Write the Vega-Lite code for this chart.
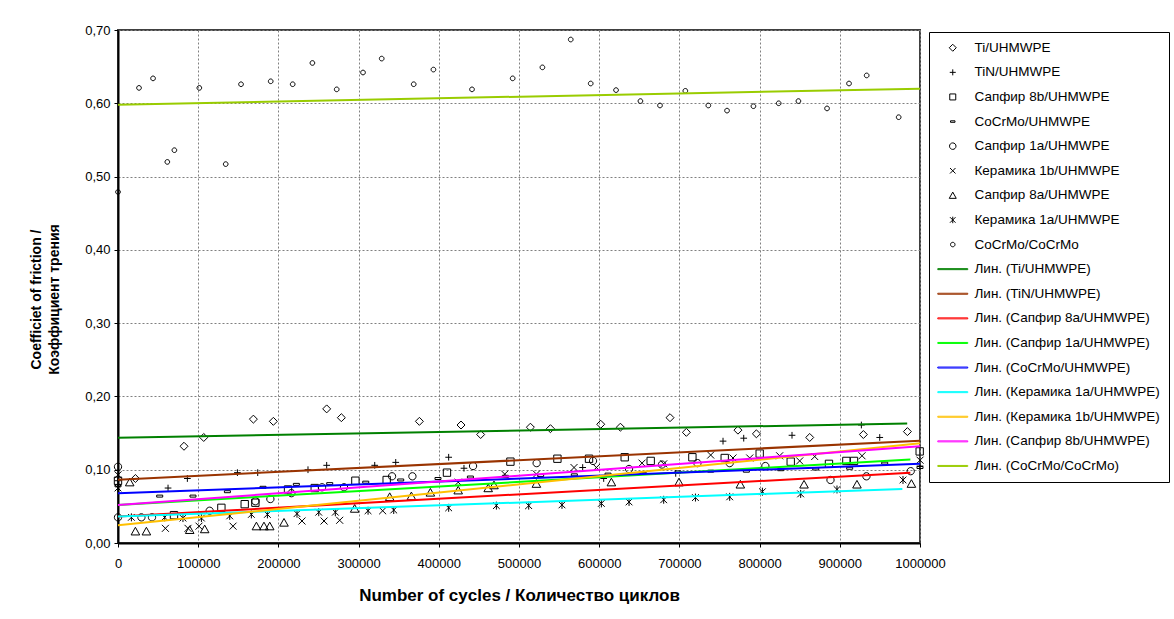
{
  "$schema": "https://vega.github.io/schema/vega-lite/v6.json",
  "width": 802,
  "height": 513,
  "autosize": {"type": "none"},
  "padding": {"left": 118, "top": 30, "right": 254, "bottom": 76},
  "background": "white",
  "config": {
    "font": "Liberation Sans",
    "view": {"stroke": "#404040", "strokeWidth": 2},
    "axis": {
      "labelFont": "Liberation Sans", "labelFontSize": 13, "labelColor": "black",
      "titleFont": "Liberation Sans", "titleFontWeight": "bold", "titleColor": "black",
      "domainColor": "black", "domainWidth": 2, "tickColor": "black", "tickSize": 4,
      "grid": true, "gridColor": "#808080", "gridDash": [2, 2], "gridWidth": 1
    },
    "legend": {
      "labelFont": "Liberation Sans", "labelFontSize": 13.5, "labelColor": "black", "labelLimit": 400,
      "strokeColor": "black", "fillColor": "white", "padding": 9, "rowPadding": 9.6,
      "symbolSize": 100, "symbolStrokeWidth": 1, "symbolOffset": 8, "labelOffset": 15
    }
  },
  "datasets": {
    "pts": [
      {"s": "Ti/UHMWPE", "x": 21700, "y": 0.088},
      {"s": "Ti/UHMWPE", "x": 82300, "y": 0.132},
      {"s": "Ti/UHMWPE", "x": 106900, "y": 0.144},
      {"s": "Ti/UHMWPE", "x": 168800, "y": 0.169},
      {"s": "Ti/UHMWPE", "x": 193700, "y": 0.166},
      {"s": "Ti/UHMWPE", "x": 260200, "y": 0.183},
      {"s": "Ti/UHMWPE", "x": 278500, "y": 0.171},
      {"s": "Ti/UHMWPE", "x": 375800, "y": 0.166},
      {"s": "Ti/UHMWPE", "x": 427700, "y": 0.161},
      {"s": "Ti/UHMWPE", "x": 452200, "y": 0.148},
      {"s": "Ti/UHMWPE", "x": 514200, "y": 0.158},
      {"s": "Ti/UHMWPE", "x": 539200, "y": 0.156},
      {"s": "Ti/UHMWPE", "x": 601900, "y": 0.162},
      {"s": "Ti/UHMWPE", "x": 626400, "y": 0.158},
      {"s": "Ti/UHMWPE", "x": 688300, "y": 0.171},
      {"s": "Ti/UHMWPE", "x": 708700, "y": 0.151},
      {"s": "Ti/UHMWPE", "x": 773000, "y": 0.154},
      {"s": "Ti/UHMWPE", "x": 796000, "y": 0.149},
      {"s": "Ti/UHMWPE", "x": 862500, "y": 0.144},
      {"s": "Ti/UHMWPE", "x": 929400, "y": 0.148},
      {"s": "Ti/UHMWPE", "x": 984300, "y": 0.152},
      {"s": "TiN/UHMWPE", "x": 0, "y": 0.085},
      {"s": "TiN/UHMWPE", "x": 62400, "y": 0.075},
      {"s": "TiN/UHMWPE", "x": 86500, "y": 0.088},
      {"s": "TiN/UHMWPE", "x": 148900, "y": 0.096},
      {"s": "TiN/UHMWPE", "x": 174200, "y": 0.096},
      {"s": "TiN/UHMWPE", "x": 236900, "y": 0.1},
      {"s": "TiN/UHMWPE", "x": 260200, "y": 0.106},
      {"s": "TiN/UHMWPE", "x": 320100, "y": 0.106},
      {"s": "TiN/UHMWPE", "x": 346300, "y": 0.11},
      {"s": "TiN/UHMWPE", "x": 412300, "y": 0.117},
      {"s": "TiN/UHMWPE", "x": 431400, "y": 0.102},
      {"s": "TiN/UHMWPE", "x": 579400, "y": 0.103},
      {"s": "TiN/UHMWPE", "x": 605600, "y": 0.088},
      {"s": "TiN/UHMWPE", "x": 695400, "y": 0.095},
      {"s": "TiN/UHMWPE", "x": 754400, "y": 0.139},
      {"s": "TiN/UHMWPE", "x": 780200, "y": 0.143},
      {"s": "TiN/UHMWPE", "x": 840400, "y": 0.147},
      {"s": "TiN/UHMWPE", "x": 926900, "y": 0.161},
      {"s": "TiN/UHMWPE", "x": 949800, "y": 0.144},
      {"s": "TiN/UHMWPE", "x": 1000000, "y": 0.105},
      {"s": "Сапфир 8b/UHMWPE", "x": 0, "y": 0.085},
      {"s": "Сапфир 8b/UHMWPE", "x": 69800, "y": 0.038},
      {"s": "Сапфир 8b/UHMWPE", "x": 128900, "y": 0.048},
      {"s": "Сапфир 8b/UHMWPE", "x": 158000, "y": 0.053},
      {"s": "Сапфир 8b/UHMWPE", "x": 171300, "y": 0.055},
      {"s": "Сапфир 8b/UHMWPE", "x": 212000, "y": 0.073},
      {"s": "Сапфир 8b/UHMWPE", "x": 245300, "y": 0.075},
      {"s": "Сапфир 8b/UHMWPE", "x": 296000, "y": 0.085},
      {"s": "Сапфир 8b/UHMWPE", "x": 335000, "y": 0.086},
      {"s": "Сапфир 8b/UHMWPE", "x": 410200, "y": 0.096},
      {"s": "Сапфир 8b/UHMWPE", "x": 489300, "y": 0.111},
      {"s": "Сапфир 8b/UHMWPE", "x": 547900, "y": 0.115},
      {"s": "Сапфир 8b/UHMWPE", "x": 587300, "y": 0.115},
      {"s": "Сапфир 8b/UHMWPE", "x": 631800, "y": 0.117},
      {"s": "Сапфир 8b/UHMWPE", "x": 664200, "y": 0.112},
      {"s": "Сапфир 8b/UHMWPE", "x": 716200, "y": 0.117},
      {"s": "Сапфир 8b/UHMWPE", "x": 756500, "y": 0.116},
      {"s": "Сапфир 8b/UHMWPE", "x": 800100, "y": 0.122},
      {"s": "Сапфир 8b/UHMWPE", "x": 838800, "y": 0.111},
      {"s": "Сапфир 8b/UHMWPE", "x": 886500, "y": 0.108},
      {"s": "Сапфир 8b/UHMWPE", "x": 908200, "y": 0.112},
      {"s": "Сапфир 8b/UHMWPE", "x": 917700, "y": 0.112},
      {"s": "Сапфир 8b/UHMWPE", "x": 999600, "y": 0.125},
      {"s": "CoCrMo/UHMWPE", "x": 0, "y": 0.078},
      {"s": "CoCrMo/UHMWPE", "x": 52000, "y": 0.064},
      {"s": "CoCrMo/UHMWPE", "x": 93500, "y": 0.064},
      {"s": "CoCrMo/UHMWPE", "x": 136400, "y": 0.07},
      {"s": "CoCrMo/UHMWPE", "x": 180800, "y": 0.076},
      {"s": "CoCrMo/UHMWPE", "x": 222400, "y": 0.08},
      {"s": "CoCrMo/UHMWPE", "x": 264000, "y": 0.081},
      {"s": "CoCrMo/UHMWPE", "x": 308900, "y": 0.083},
      {"s": "CoCrMo/UHMWPE", "x": 352500, "y": 0.086},
      {"s": "CoCrMo/UHMWPE", "x": 399000, "y": 0.088},
      {"s": "CoCrMo/UHMWPE", "x": 439400, "y": 0.09},
      {"s": "CoCrMo/UHMWPE", "x": 483000, "y": 0.091},
      {"s": "CoCrMo/UHMWPE", "x": 527000, "y": 0.092},
      {"s": "CoCrMo/UHMWPE", "x": 569000, "y": 0.093},
      {"s": "CoCrMo/UHMWPE", "x": 611000, "y": 0.094},
      {"s": "CoCrMo/UHMWPE", "x": 655000, "y": 0.095},
      {"s": "CoCrMo/UHMWPE", "x": 698300, "y": 0.097},
      {"s": "CoCrMo/UHMWPE", "x": 739000, "y": 0.098},
      {"s": "CoCrMo/UHMWPE", "x": 783500, "y": 0.098},
      {"s": "CoCrMo/UHMWPE", "x": 826300, "y": 0.1},
      {"s": "CoCrMo/UHMWPE", "x": 870000, "y": 0.101},
      {"s": "CoCrMo/UHMWPE", "x": 912300, "y": 0.102},
      {"s": "CoCrMo/UHMWPE", "x": 956000, "y": 0.109},
      {"s": "CoCrMo/UHMWPE", "x": 1000000, "y": 0.103},
      {"s": "Сапфир 1a/UHMWPE", "x": 0, "y": 0.104},
      {"s": "Сапфир 1a/UHMWPE", "x": 0, "y": 0.035},
      {"s": "Сапфир 1a/UHMWPE", "x": 29200, "y": 0.035},
      {"s": "Сапфир 1a/UHMWPE", "x": 42400, "y": 0.035},
      {"s": "Сапфир 1a/UHMWPE", "x": 114300, "y": 0.044},
      {"s": "Сапфир 1a/UHMWPE", "x": 171300, "y": 0.057},
      {"s": "Сапфир 1a/UHMWPE", "x": 190000, "y": 0.06},
      {"s": "Сапфир 1a/UHMWPE", "x": 216200, "y": 0.068},
      {"s": "Сапфир 1a/UHMWPE", "x": 254400, "y": 0.076},
      {"s": "Сапфир 1a/UHMWPE", "x": 281800, "y": 0.076},
      {"s": "Сапфир 1a/UHMWPE", "x": 341700, "y": 0.091},
      {"s": "Сапфир 1a/UHMWPE", "x": 367100, "y": 0.091},
      {"s": "Сапфир 1a/UHMWPE", "x": 442700, "y": 0.105},
      {"s": "Сапфир 1a/UHMWPE", "x": 522000, "y": 0.109},
      {"s": "Сапфир 1a/UHMWPE", "x": 592300, "y": 0.112},
      {"s": "Сапфир 1a/UHMWPE", "x": 637200, "y": 0.101},
      {"s": "Сапфир 1a/UHMWPE", "x": 678300, "y": 0.107},
      {"s": "Сапфир 1a/UHMWPE", "x": 722500, "y": 0.109},
      {"s": "Сапфир 1a/UHMWPE", "x": 762700, "y": 0.109},
      {"s": "Сапфир 1a/UHMWPE", "x": 807200, "y": 0.105},
      {"s": "Сапфир 1a/UHMWPE", "x": 888400, "y": 0.086},
      {"s": "Сапфир 1a/UHMWPE", "x": 933200, "y": 0.091},
      {"s": "Сапфир 1a/UHMWPE", "x": 988400, "y": 0.098},
      {"s": "Керамика 1b/UHMWPE", "x": 0, "y": 0.093},
      {"s": "Керамика 1b/UHMWPE", "x": 59100, "y": 0.02},
      {"s": "Керамика 1b/UHMWPE", "x": 87300, "y": 0.02},
      {"s": "Керамика 1b/UHMWPE", "x": 101000, "y": 0.023},
      {"s": "Керамика 1b/UHMWPE", "x": 143400, "y": 0.023},
      {"s": "Керамика 1b/UHMWPE", "x": 229400, "y": 0.03},
      {"s": "Керамика 1b/UHMWPE", "x": 256900, "y": 0.03},
      {"s": "Керамика 1b/UHMWPE", "x": 276400, "y": 0.031},
      {"s": "Керамика 1b/UHMWPE", "x": 330000, "y": 0.044},
      {"s": "Керамика 1b/UHMWPE", "x": 424200, "y": 0.083},
      {"s": "Керамика 1b/UHMWPE", "x": 482200, "y": 0.094},
      {"s": "Керамика 1b/UHMWPE", "x": 521700, "y": 0.094},
      {"s": "Керамика 1b/UHMWPE", "x": 568600, "y": 0.103},
      {"s": "Керамика 1b/UHMWPE", "x": 596500, "y": 0.103},
      {"s": "Керамика 1b/UHMWPE", "x": 653400, "y": 0.109},
      {"s": "Керамика 1b/UHMWPE", "x": 680400, "y": 0.108},
      {"s": "Керамика 1b/UHMWPE", "x": 739000, "y": 0.12},
      {"s": "Керамика 1b/UHMWPE", "x": 766800, "y": 0.116},
      {"s": "Керамика 1b/UHMWPE", "x": 787700, "y": 0.116},
      {"s": "Керамика 1b/UHMWPE", "x": 825000, "y": 0.119},
      {"s": "Керамика 1b/UHMWPE", "x": 850000, "y": 0.112},
      {"s": "Керамика 1b/UHMWPE", "x": 868700, "y": 0.118},
      {"s": "Керамика 1b/UHMWPE", "x": 927700, "y": 0.119},
      {"s": "Керамика 1b/UHMWPE", "x": 1000000, "y": 0.113},
      {"s": "Сапфир 8a/UHMWPE", "x": 14600, "y": 0.083},
      {"s": "Сапфир 8a/UHMWPE", "x": 21700, "y": 0.016},
      {"s": "Сапфир 8a/UHMWPE", "x": 35400, "y": 0.016},
      {"s": "Сапфир 8a/UHMWPE", "x": 89400, "y": 0.018},
      {"s": "Сапфир 8a/UHMWPE", "x": 108100, "y": 0.019},
      {"s": "Сапфир 8a/UHMWPE", "x": 172600, "y": 0.023},
      {"s": "Сапфир 8a/UHMWPE", "x": 182000, "y": 0.023},
      {"s": "Сапфир 8a/UHMWPE", "x": 189200, "y": 0.023},
      {"s": "Сапфир 8a/UHMWPE", "x": 207000, "y": 0.028},
      {"s": "Сапфир 8a/UHMWPE", "x": 295100, "y": 0.047},
      {"s": "Сапфир 8a/UHMWPE", "x": 338800, "y": 0.063},
      {"s": "Сапфир 8a/UHMWPE", "x": 365800, "y": 0.064},
      {"s": "Сапфир 8a/UHMWPE", "x": 389500, "y": 0.069},
      {"s": "Сапфир 8a/UHMWPE", "x": 424200, "y": 0.072},
      {"s": "Сапфир 8a/UHMWPE", "x": 461600, "y": 0.075},
      {"s": "Сапфир 8a/UHMWPE", "x": 468800, "y": 0.079},
      {"s": "Сапфир 8a/UHMWPE", "x": 521700, "y": 0.081},
      {"s": "Сапфир 8a/UHMWPE", "x": 615200, "y": 0.083},
      {"s": "Сапфир 8a/UHMWPE", "x": 699500, "y": 0.083},
      {"s": "Сапфир 8a/UHMWPE", "x": 776000, "y": 0.08},
      {"s": "Сапфир 8a/UHMWPE", "x": 855400, "y": 0.08},
      {"s": "Сапфир 8a/UHMWPE", "x": 921400, "y": 0.08},
      {"s": "Сапфир 8a/UHMWPE", "x": 989300, "y": 0.081},
      {"s": "Керамика 1a/UHMWPE", "x": 0, "y": 0.075},
      {"s": "Керамика 1a/UHMWPE", "x": 16700, "y": 0.035},
      {"s": "Керамика 1a/UHMWPE", "x": 58200, "y": 0.035},
      {"s": "Керамика 1a/UHMWPE", "x": 81000, "y": 0.034},
      {"s": "Керамика 1a/UHMWPE", "x": 104000, "y": 0.034},
      {"s": "Керамика 1a/UHMWPE", "x": 139300, "y": 0.037},
      {"s": "Керамика 1a/UHMWPE", "x": 166300, "y": 0.039},
      {"s": "Керамика 1a/UHMWPE", "x": 186300, "y": 0.039},
      {"s": "Керамика 1a/UHMWPE", "x": 223200, "y": 0.04},
      {"s": "Керамика 1a/UHMWPE", "x": 250300, "y": 0.042},
      {"s": "Керамика 1a/UHMWPE", "x": 271000, "y": 0.042},
      {"s": "Керамика 1a/UHMWPE", "x": 311800, "y": 0.044},
      {"s": "Керамика 1a/UHMWPE", "x": 343800, "y": 0.045},
      {"s": "Керамика 1a/UHMWPE", "x": 412300, "y": 0.048},
      {"s": "Керамика 1a/UHMWPE", "x": 471800, "y": 0.051},
      {"s": "Керамика 1a/UHMWPE", "x": 512100, "y": 0.051},
      {"s": "Керамика 1a/UHMWPE", "x": 553600, "y": 0.052},
      {"s": "Керамика 1a/UHMWPE", "x": 602700, "y": 0.054},
      {"s": "Керамика 1a/UHMWPE", "x": 637200, "y": 0.056},
      {"s": "Керамика 1a/UHMWPE", "x": 680400, "y": 0.059},
      {"s": "Керамика 1a/UHMWPE", "x": 720000, "y": 0.062},
      {"s": "Керамика 1a/UHMWPE", "x": 762700, "y": 0.063},
      {"s": "Керамика 1a/UHMWPE", "x": 803500, "y": 0.07},
      {"s": "Керамика 1a/UHMWPE", "x": 851200, "y": 0.067},
      {"s": "Керамика 1a/UHMWPE", "x": 896500, "y": 0.073},
      {"s": "Керамика 1a/UHMWPE", "x": 978800, "y": 0.086},
      {"s": "CoCrMo/CoCrMo", "x": 0, "y": 0.479},
      {"s": "CoCrMo/CoCrMo", "x": 26200, "y": 0.621},
      {"s": "CoCrMo/CoCrMo", "x": 43700, "y": 0.634},
      {"s": "CoCrMo/CoCrMo", "x": 61500, "y": 0.52},
      {"s": "CoCrMo/CoCrMo", "x": 70300, "y": 0.536},
      {"s": "CoCrMo/CoCrMo", "x": 101400, "y": 0.621},
      {"s": "CoCrMo/CoCrMo", "x": 134300, "y": 0.517},
      {"s": "CoCrMo/CoCrMo", "x": 153400, "y": 0.626},
      {"s": "CoCrMo/CoCrMo", "x": 190400, "y": 0.63},
      {"s": "CoCrMo/CoCrMo", "x": 217800, "y": 0.626},
      {"s": "CoCrMo/CoCrMo", "x": 242400, "y": 0.655},
      {"s": "CoCrMo/CoCrMo", "x": 272700, "y": 0.619},
      {"s": "CoCrMo/CoCrMo", "x": 305500, "y": 0.642},
      {"s": "CoCrMo/CoCrMo", "x": 328800, "y": 0.661},
      {"s": "CoCrMo/CoCrMo", "x": 368700, "y": 0.626},
      {"s": "CoCrMo/CoCrMo", "x": 393300, "y": 0.646},
      {"s": "CoCrMo/CoCrMo", "x": 441400, "y": 0.619},
      {"s": "CoCrMo/CoCrMo", "x": 492100, "y": 0.634},
      {"s": "CoCrMo/CoCrMo", "x": 529200, "y": 0.649},
      {"s": "CoCrMo/CoCrMo", "x": 564500, "y": 0.687},
      {"s": "CoCrMo/CoCrMo", "x": 589400, "y": 0.627},
      {"s": "CoCrMo/CoCrMo", "x": 621000, "y": 0.618},
      {"s": "CoCrMo/CoCrMo", "x": 651400, "y": 0.603},
      {"s": "CoCrMo/CoCrMo", "x": 675800, "y": 0.597},
      {"s": "CoCrMo/CoCrMo", "x": 707400, "y": 0.617},
      {"s": "CoCrMo/CoCrMo", "x": 736100, "y": 0.597},
      {"s": "CoCrMo/CoCrMo", "x": 759400, "y": 0.59},
      {"s": "CoCrMo/CoCrMo", "x": 792300, "y": 0.596},
      {"s": "CoCrMo/CoCrMo", "x": 823800, "y": 0.6},
      {"s": "CoCrMo/CoCrMo", "x": 848400, "y": 0.603},
      {"s": "CoCrMo/CoCrMo", "x": 884100, "y": 0.593},
      {"s": "CoCrMo/CoCrMo", "x": 911500, "y": 0.627},
      {"s": "CoCrMo/CoCrMo", "x": 933500, "y": 0.638},
      {"s": "CoCrMo/CoCrMo", "x": 973400, "y": 0.581}
    ],
    "trend": [
      {"s": "Лин. (Ti/UHMWPE)", "x": 0, "y": 0.1437},
      {"s": "Лин. (Ti/UHMWPE)", "x": 984000, "y": 0.163},
      {"s": "Лин. (TiN/UHMWPE)", "x": 0, "y": 0.0864},
      {"s": "Лин. (TiN/UHMWPE)", "x": 1000000, "y": 0.1396},
      {"s": "Лин. (Сапфир 8a/UHMWPE)", "x": 0, "y": 0.036},
      {"s": "Лин. (Сапфир 8a/UHMWPE)", "x": 988000, "y": 0.096},
      {"s": "Лин. (Сапфир 1a/UHMWPE)", "x": 0, "y": 0.052},
      {"s": "Лин. (Сапфир 1a/UHMWPE)", "x": 988000, "y": 0.114},
      {"s": "Лин. (CoCrMo/UHMWPE)", "x": 0, "y": 0.0678},
      {"s": "Лин. (CoCrMo/UHMWPE)", "x": 1000000, "y": 0.108},
      {"s": "Лин. (Керамика 1a/UHMWPE)", "x": 0, "y": 0.036},
      {"s": "Лин. (Керамика 1a/UHMWPE)", "x": 978000, "y": 0.0737},
      {"s": "Лин. (Керамика 1b/UHMWPE)", "x": 0, "y": 0.0241},
      {"s": "Лин. (Керамика 1b/UHMWPE)", "x": 1000000, "y": 0.136},
      {"s": "Лин. (Сапфир 8b/UHMWPE)", "x": 0, "y": 0.0518},
      {"s": "Лин. (Сапфир 8b/UHMWPE)", "x": 1000000, "y": 0.132},
      {"s": "Лин. (CoCrMo/CoCrMo)", "x": 0, "y": 0.598},
      {"s": "Лин. (CoCrMo/CoCrMo)", "x": 1000000, "y": 0.62}
    ]
  },
  "layer": [
    {
      "data": {"name": "pts"},
      "mark": {"type": "point", "filled": false, "opacity": 1, "strokeWidth": 1},
      "encoding": {
        "x": {
          "field": "x", "type": "quantitative",
          "scale": {"domain": [0, 1000000], "nice": false, "zero": false},
          "axis": {
            "values": [0, 100000, 200000, 300000, 400000, 500000, 600000, 700000, 800000, 900000, 1000000],
            "format": "d", "labelPadding": 10, "labelFlush": false,
            "title": "Number of cycles / Количество циклов",
            "titleFontSize": 17, "titleY": 57, "titleBaseline": "alphabetic"
          }
        },
        "y": {
          "field": "y", "type": "quantitative",
          "scale": {"domain": [0, 0.7], "nice": false},
          "axis": {
            "values": [0, 0.1, 0.2, 0.3, 0.4, 0.5, 0.6, 0.7],
            "labelExpr": "replace(format(datum.value, '.2f'), '.', ',')",
            "labelPadding": 4, "labelFlush": false,
            "title": ["Coefficiet of friction /", "Коэффициент трения"],
            "titleFontSize": 14,
            "titleX": -82, "titleY": 269, "titleAngle": -90,
            "titleAlign": "center", "titleBaseline": "middle", "titleLineHeight": 18
          }
        },
        "shape": {
          "field": "s", "type": "nominal",
          "scale": {
            "domain": ["Ti/UHMWPE", "TiN/UHMWPE", "Сапфир 8b/UHMWPE", "CoCrMo/UHMWPE", "Сапфир 1a/UHMWPE", "Керамика 1b/UHMWPE", "Сапфир 8a/UHMWPE", "Керамика 1a/UHMWPE", "CoCrMo/CoCrMo", "Лин. (Ti/UHMWPE)", "Лин. (TiN/UHMWPE)", "Лин. (Сапфир 8a/UHMWPE)", "Лин. (Сапфир 1a/UHMWPE)", "Лин. (CoCrMo/UHMWPE)", "Лин. (Керамика 1a/UHMWPE)", "Лин. (Керамика 1b/UHMWPE)", "Лин. (Сапфир 8b/UHMWPE)", "Лин. (CoCrMo/CoCrMo)"],
            "range": [
              "M0,-0.7L0.7,0L0,0.7L-0.7,0Z",
              "M-0.6,0L0.6,0M0,-0.6L0,0.6",
              "M-0.6,-0.6L0.6,-0.6L0.6,0.6L-0.6,0.6Z",
              "M-0.45,-0.15L0.45,-0.15L0.45,0.15L-0.45,0.15Z",
              "M0.65,0A0.65,0.65,0,1,1,-0.65,0A0.65,0.65,0,1,1,0.65,0",
              "M-0.55,-0.55L0.55,0.55M-0.55,0.55L0.55,-0.55",
              "M0,-0.65L0.7,0.6L-0.7,0.6Z",
              "M-0.55,-0.55L0.55,0.55M-0.55,0.55L0.55,-0.55M0,-0.65L0,0.65",
              "M0.45,0A0.45,0.45,0,1,1,-0.45,0A0.45,0.45,0,1,1,0.45,0",
              "M-3,-0.1L3,-0.1L3,0.1L-3,0.1Z", "M-3,-0.1L3,-0.1L3,0.1L-3,0.1Z", "M-3,-0.1L3,-0.1L3,0.1L-3,0.1Z",
              "M-3,-0.1L3,-0.1L3,0.1L-3,0.1Z", "M-3,-0.1L3,-0.1L3,0.1L-3,0.1Z", "M-3,-0.1L3,-0.1L3,0.1L-3,0.1Z",
              "M-3,-0.1L3,-0.1L3,0.1L-3,0.1Z", "M-3,-0.1L3,-0.1L3,0.1L-3,0.1Z", "M-3,-0.1L3,-0.1L3,0.1L-3,0.1Z"
            ]
          },
          "legend": {"title": null, "orient": "none", "legendX": 811, "legendY": 2}
        },
        "stroke": {
          "field": "s", "type": "nominal",
          "scale": {
            "domain": ["Ti/UHMWPE", "TiN/UHMWPE", "Сапфир 8b/UHMWPE", "CoCrMo/UHMWPE", "Сапфир 1a/UHMWPE", "Керамика 1b/UHMWPE", "Сапфир 8a/UHMWPE", "Керамика 1a/UHMWPE", "CoCrMo/CoCrMo", "Лин. (Ti/UHMWPE)", "Лин. (TiN/UHMWPE)", "Лин. (Сапфир 8a/UHMWPE)", "Лин. (Сапфир 1a/UHMWPE)", "Лин. (CoCrMo/UHMWPE)", "Лин. (Керамика 1a/UHMWPE)", "Лин. (Керамика 1b/UHMWPE)", "Лин. (Сапфир 8b/UHMWPE)", "Лин. (CoCrMo/CoCrMo)"],
            "range": ["#000000", "#000000", "#000000", "#000000", "#000000", "#000000", "#000000", "#000000", "#000000", "#008000", "#993300", "#FF0000", "#00FF00", "#0000FF", "#00FFFF", "#FFC000", "#FF00FF", "#99CC00"]
          },
          "legend": {"title": null, "orient": "none", "legendX": 811, "legendY": 2}
        },
        "size": {
          "condition": [
            {"test": "datum.s === 'CoCrMo/CoCrMo'", "value": 108},
            {"test": "datum.s === 'CoCrMo/UHMWPE'", "value": 178},
            {"test": "datum.s === 'Ti/UHMWPE'", "value": 130},
            {"test": "datum.s === 'TiN/UHMWPE'", "value": 125},
            {"test": "datum.s === 'Сапфир 1a/UHMWPE'", "value": 126},
            {"test": "datum.s === 'Керамика 1b/UHMWPE'", "value": 162}
          ],
          "value": 150
        }
      }
    },
    {
      "data": {"name": "trend"},
      "mark": {"type": "line", "strokeWidth": 2},
      "encoding": {
        "x": {"field": "x", "type": "quantitative"},
        "y": {"field": "y", "type": "quantitative"},
        "stroke": {"field": "s", "type": "nominal"}
      }
    }
  ]
}
